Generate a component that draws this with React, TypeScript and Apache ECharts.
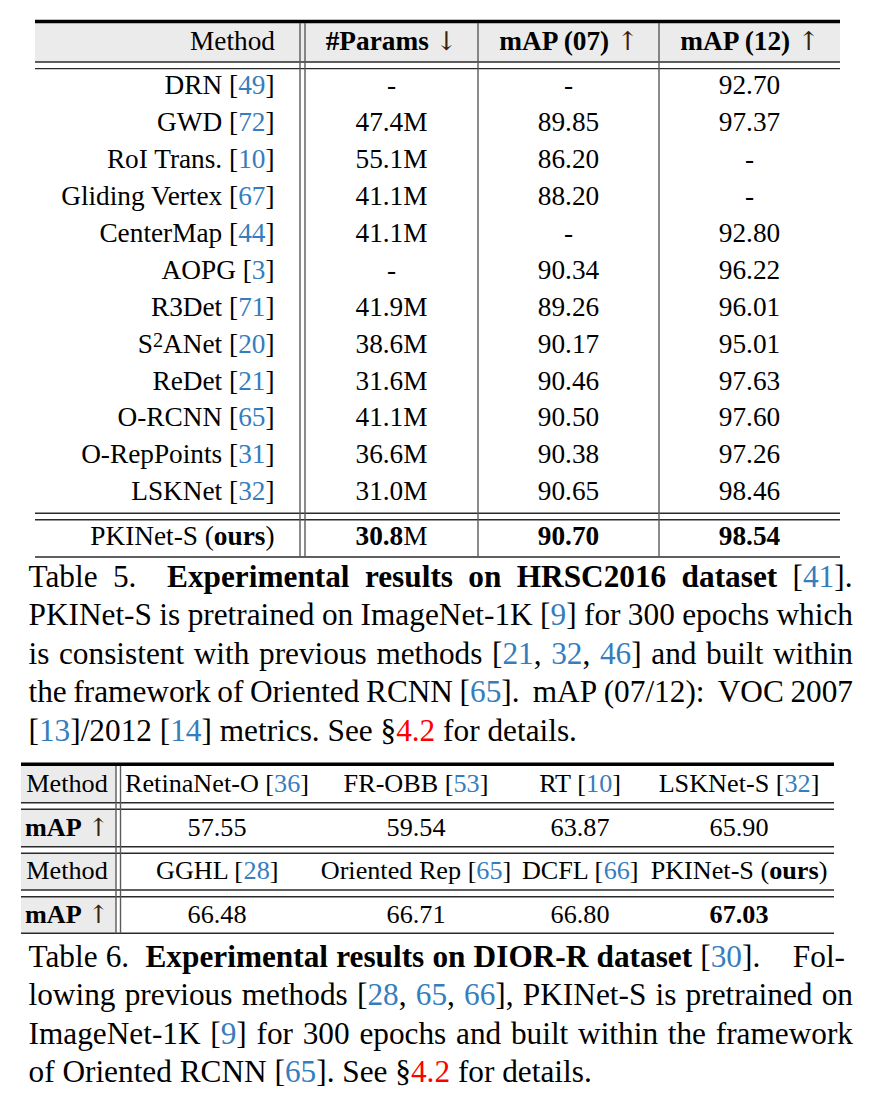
import React, { useEffect, useRef } from "react";
import * as echarts from "echarts";

const FONT = '"Liberation Serif", "Times New Roman", Times, serif';
const CITE = "#367dbd";
const LINK = "#ff0000";
const ARROW = "#3a2008";
const RULE = "#2a2a2a";
const VRULE = "#5a5a5a";
const GRAY = "#ebebeb";

// ---------- Table 5 data ----------
const T5_HEADERS = ["Method", "*#Params* @↓@", "*mAP (07)* @↑@", "*mAP (12)* @↑@"];
const T5_METHODS = ["DRN", "GWD", "RoI Trans.", "Gliding Vertex", "CenterMap", "AOPG", "R3Det", "S²ANet", "ReDet", "O-RCNN", "O-RepPoints", "LSKNet"];
const T5_CITES = ["49", "72", "10", "67", "44", "3", "71", "20", "21", "65", "31", "32"];
const T5_PARAMS = ["-", "47.4M", "55.1M", "41.1M", "41.1M", "-", "41.9M", "38.6M", "31.6M", "41.1M", "36.6M", "31.0M"];
const T5_MAP07 = ["-", "89.85", "86.20", "88.20", "-", "90.34", "89.26", "90.17", "90.46", "90.50", "90.38", "90.65"];
const T5_MAP12 = ["92.70", "97.37", "-", "-", "92.80", "96.22", "96.01", "95.01", "97.63", "97.60", "97.26", "98.46"];
const T5_OURS = ["PKINet-S (*ours*)", "*30.8*M", "*90.70*", "*98.54*"];

// ---------- Table 6 data ----------
const T6_ROW_LABELS = ["Method", "*mAP* @↑@", "Method", "*mAP* @↑@"];
const T6_METHODS_1 = ["RetinaNet-O", "FR-OBB", "RT", "LSKNet-S"];
const T6_CITES_1 = ["36", "53", "10", "32"];
const T6_MAP_1 = ["57.55", "59.54", "63.87", "65.90"];
const T6_METHODS_2 = ["GGHL", "Oriented Rep", "DCFL", "PKINet-S"];
const T6_CITES_2 = ["28", "65", "66", ""];
const T6_MAP_2 = ["66.48", "66.71", "66.80", "*67.03*"];

// ---------- Captions (markup: *bold*, ^cite^, ~link~; runs of spaces = gap weight) ----------
const CAP5 = [
  "Table 5.  *Experimental results on HRSC2016 dataset* [^41^].",
  "PKINet-S is pretrained on ImageNet-1K [^9^] for 300 epochs which",
  "is consistent with previous methods [^21^, ^32^, ^46^] and built within",
  "the framework of Oriented RCNN [^65^].  mAP (07/12):  VOC 2007",
  "[^13^]/2012 [^14^] metrics. See §~4.2~ for details.",
];
const CAP6 = [
  "Table 6.  *Experimental results on DIOR-R dataset* [^30^].    Fol-",
  "lowing previous methods [^28^, ^65^, ^66^], PKINet-S is pretrained on",
  "ImageNet-1K [^9^] for 300 epochs and built within the framework",
  "of Oriented RCNN [^65^]. See §~4.2~ for details.",
];

type Seg = { t: string; st: string };

function parseMarkup(s: string): Seg[] {
  const map: Record<string, string> = { "*": "b", "^": "c", "~": "r", "@": "a", "`": "s" };
  const segs: Seg[] = [];
  let st = "n";
  let cur = "";
  for (const ch of s) {
    if (map[ch]) {
      if (cur) segs.push({ t: cur, st });
      cur = "";
      st = st === map[ch] ? "n" : map[ch];
    } else cur += ch;
  }
  if (cur) segs.push({ t: cur, st });
  return segs;
}

function richStyles(fs: number) {
  const base: any = { fontFamily: FONT, fontSize: fs, lineHeight: fs, fill: "#000", color: "#000" };
  return {
    n: { ...base },
    b: { ...base, fontWeight: "bold" },
    c: { ...base, fill: CITE, color: CITE },
    r: { ...base, fill: LINK, color: LINK },
    a: { ...base, fontFamily: '"DejaVu Serif", serif', fontSize: fs * 0.95, fill: ARROW, color: ARROW },
    s: { fontFamily: FONT, fontSize: fs * 0.74, lineHeight: fs * 0.62, fill: "#000", color: "#000", verticalAlign: "top" },
  };
}

function cell(x: number, y: number, markup: string, fs: number, align: string) {
  const segs = parseMarkup(markup);
  const text = segs.map((s) => `{${s.st}|${s.t}}`).join("");
  return {
    type: "text",
    x,
    y,
    silent: true,
    style: {
      text,
      rich: richStyles(fs),
      align,
      verticalAlign: "middle",
      fontFamily: FONT,
      fontSize: fs,
      fill: "#000",
    },
  };
}

function methodMarkup(name: string, cite: string) {
  const n = name.replace("²", "`2`");
  return cite ? `${n} [^${cite}^]` : `${n} (*ours*)`;
}

function hline(x1: number, x2: number, y: number, w = 1.4, c = RULE) {
  return { type: "line", silent: true, shape: { x1, y1: y, x2, y2: y }, style: { stroke: c, lineWidth: w } };
}
function vline(x: number, y1: number, y2: number, w = 1.4, c = VRULE) {
  return { type: "line", silent: true, shape: { x1: x, y1, x2: x, y2 }, style: { stroke: c, lineWidth: w } };
}
function rect(x: number, y: number, w: number, h: number, fill: string) {
  return { type: "rect", silent: true, shape: { x, y, width: w, height: h }, style: { fill } };
}

function captionElements(
  lines: string[],
  left: number,
  rights: number[],
  baselines: number[],
  fs: number,
  ctx: CanvasRenderingContext2D
) {
  const els: any[] = [];
  const styleOf = (st: string) => ({
    weight: st === "b" ? "bold" : "normal",
    fill: st === "c" ? CITE : st === "r" ? LINK : "#000",
  });
  const measure = (t: string, st: string) => {
    ctx.font = `${styleOf(st).weight} ${fs}px ${FONT}`;
    return ctx.measureText(t).width;
  };
  lines.forEach((line, li) => {
    const segs = parseMarkup(line);
    const words: { segs: Seg[]; gap: number }[] = [];
    let curWord: { segs: Seg[]; gap: number } | null = null;
    let pending = 0;
    segs.forEach((s) => {
      for (const ch of s.t) {
        if (ch === " ") {
          pending++;
          continue;
        }
        if (!curWord || pending > 0) {
          curWord = { segs: [], gap: words.length ? pending : 0 };
          words.push(curWord);
          pending = 0;
        }
        const last = curWord.segs[curWord.segs.length - 1];
        if (last && last.st === s.st) last.t += ch;
        else curWord.segs.push({ t: ch, st: s.st });
      }
    });
    const widths = words.map((w) => w.segs.reduce((a, s) => a + measure(s.t, s.st), 0));
    const sumW = widths.reduce((a, b) => a + b, 0);
    const sumGap = words.reduce((a, w) => a + w.gap, 0);
    const justify = li < lines.length - 1;
    const unit = justify ? (rights[li] - left - sumW) / sumGap : measure(" ", "n");
    const yc = baselines[li] - 0.3375 * fs;
    let x = left;
    words.forEach((w) => {
      x += w.gap * unit;
      w.segs.forEach((s) => {
        const sty = styleOf(s.st);
        els.push({
          type: "text",
          x,
          y: yc,
          silent: true,
          style: {
            text: s.t,
            fontFamily: FONT,
            fontSize: fs,
            fontWeight: sty.weight,
            fill: sty.fill,
            align: "left",
            verticalAlign: "middle",
          },
        });
        x += measure(s.t, s.st);
      });
    });
  });
  return els;
}

export default function App() {
  const ref = useRef<HTMLDivElement>(null);
  useEffect(() => {
    if (!ref.current) return;
    const chart = echarts.init(ref.current, null, { renderer: "svg" });
    const canvas = document.createElement("canvas");
    const ctx = canvas.getContext("2d") as CanvasRenderingContext2D;

    const els: any[] = [];
    // ===== Table 5 =====
    const L5 = 35, R5 = 840;
    const FS5 = 27.3;
    const colX = [300, 305, 478, 659];
    const centers5 = [391.5, 568.5, 749.5];
    els.push(rect(L5, 23, R5 - L5, 38.5, GRAY));
    els.push(rect(L5, 19.8, R5 - L5, 3.4, "#000"));
    [62, 68.6, 513.2, 519.8, 557].forEach((y) => els.push(hline(L5, R5, y)));
    colX.forEach((x) => els.push(vline(x, 23, 557)));
    els.push(cell(275, 41, T5_HEADERS[0], FS5, "right"));
    for (let i = 1; i < 4; i++) els.push(cell(centers5[i - 1], 41, T5_HEADERS[i], FS5, "center"));
    T5_METHODS.forEach((m, i) => {
      const y = 85.3 + i * 36.9;
      els.push(cell(274.5, y, methodMarkup(m, T5_CITES[i]), FS5, "right"));
      els.push(cell(centers5[0], y, T5_PARAMS[i], FS5, "center"));
      els.push(cell(centers5[1], y, T5_MAP07[i], FS5, "center"));
      els.push(cell(centers5[2], y, T5_MAP12[i], FS5, "center"));
    });
    const yo = 535.5;
    els.push(cell(274.5, yo, T5_OURS[0], FS5, "right"));
    for (let i = 1; i < 4; i++) els.push(cell(centers5[i - 1], yo, T5_OURS[i], FS5, "center"));

    // ===== Table 6 =====
    const L6 = 21, R6 = 834;
    const FS6 = 26.2;
    const rowTop = [766, 809.3, 853.3, 896.7];
    const rowBot = [802.7, 846.7, 890, 933.3];
    rowTop.forEach((t, i) => els.push(rect(L6, t, 116 - L6, rowBot[i] - t, GRAY)));
    els.push(rect(L6, 762.6, R6 - L6, 3.4, "#000"));
    [802.7, 809.3, 846.7, 853.3, 890, 896.7, 933.3].forEach((y) => els.push(hline(L6, R6, y)));
    [116, 120.5].forEach((x) => els.push(vline(x, 766, 933.3)));
    const rowY6 = [783.5, 827, 870.5, 914];
    const centers6 = [217, 416, 580, 739];
    T6_ROW_LABELS.forEach((lab, i) => els.push(cell(67, rowY6[i], lab, FS6, "center")));
    T6_METHODS_1.forEach((m, i) => {
      els.push(cell(centers6[i], rowY6[0], methodMarkup(m, T6_CITES_1[i]), FS6, "center"));
      els.push(cell(centers6[i], rowY6[1], T6_MAP_1[i], FS6, "center"));
    });
    T6_METHODS_2.forEach((m, i) => {
      els.push(cell(centers6[i], rowY6[2], methodMarkup(m, T6_CITES_2[i]), FS6, "center"));
      els.push(cell(centers6[i], rowY6[3], T6_MAP_2[i], FS6, "center"));
    });

    // ===== Captions =====
    const CFS = 31.3;
    els.push(
      ...captionElements(CAP5, 28.5, [852.5, 853, 853, 853, 853], [587, 625.5, 664, 702.5, 741], CFS, ctx)
    );
    els.push(...captionElements(CAP6, 28.5, [845, 853, 853, 853], [967, 1005.5, 1044, 1082.5], CFS, ctx));

    chart.setOption({
      animation: false,
      backgroundColor: "#ffffff",
      graphic: { elements: els },
    });
    return () => chart.dispose();
  }, []);
  return <div ref={ref} style={{ position: "absolute", left: 0, top: 0, width: 878, height: 1105 }} />;
}
